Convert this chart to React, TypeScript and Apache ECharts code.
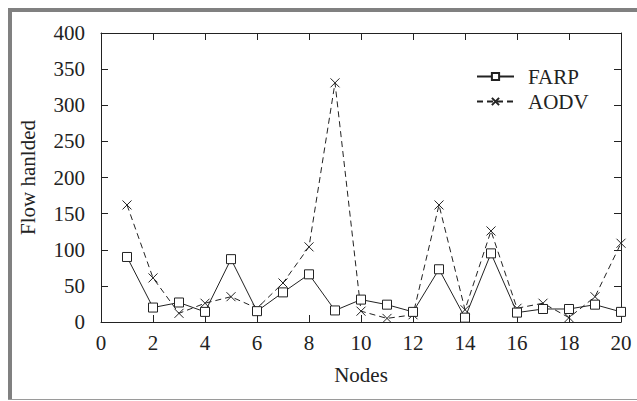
import React, { useEffect, useRef } from "react";
import * as echarts from "echarts";

const nodes = [1, 2, 3, 4, 5, 6, 7, 8, 9, 10, 11, 12, 13, 14, 15, 16, 17, 18, 19, 20];
const farp = [90, 20, 27, 14, 87, 15, 41, 66, 16, 31, 24, 14, 73, 6, 95, 13, 18, 18, 24, 14];
const aodv = [162, 61, 12, 26, 35, 19, 54, 104, 331, 15, 5, 10, 162, 17, 126, 19, 26, 6, 35, 109];

const FONT = "'Liberation Serif', 'Times New Roman', serif";
const CROSS = "path://M0,0L10,10M10,0L0,10";

export default function App() {
  const ref = useRef<HTMLDivElement>(null);
  useEffect(() => {
    if (!ref.current) return;
    const chart = echarts.init(ref.current, undefined, { renderer: "svg" });
    const axisLine = { show: true, onZero: false, lineStyle: { color: "#222", width: 1 } };
    const ticks = { show: true, inside: true, length: 7, lineStyle: { color: "#222" } };
    chart.setOption({
      animation: false,
      backgroundColor: "#fff",
      grid: { left: 101, right: 16, top: 33, bottom: 79 },
      legend: {
        orient: "vertical",
        left: 476,
        top: 66,
        padding: 0,
        itemWidth: 37,
        itemHeight: 9,
        itemGap: 4,
        textStyle: { fontFamily: FONT, fontSize: 21, color: "#222", padding: [0, 0, 0, 9] },
        data: ["FARP", "AODV"],
      },
      xAxis: [
        {
          type: "value",
          min: 0,
          max: 20,
          interval: 2,
          name: "Nodes",
          nameLocation: "middle",
          nameGap: 42,
          nameTextStyle: { fontFamily: FONT, fontSize: 21, color: "#222" },
          axisLine,
          axisTick: ticks,
          axisLabel: { fontFamily: FONT, fontSize: 21, color: "#222", margin: 10 },
          splitLine: { show: false },
        },
        {
          type: "value",
          position: "top",
          min: 0,
          max: 20,
          interval: 2,
          axisLine,
          axisTick: ticks,
          axisLabel: { show: false },
          splitLine: { show: false },
        },
      ],
      yAxis: [
        {
          type: "value",
          min: 0,
          max: 400,
          interval: 50,
          name: "Flow hanlded",
          nameLocation: "middle",
          nameGap: 63,
          nameTextStyle: { fontFamily: FONT, fontSize: 21, color: "#222" },
          axisLine,
          axisTick: ticks,
          axisLabel: { fontFamily: FONT, fontSize: 21, color: "#222", margin: 16 },
          splitLine: { show: false },
        },
        {
          type: "value",
          position: "right",
          min: 0,
          max: 400,
          interval: 50,
          axisLine,
          axisTick: ticks,
          axisLabel: { show: false },
          splitLine: { show: false },
        },
      ],
      series: [
        {
          name: "FARP",
          type: "line",
          data: nodes.map((n, i) => [n, farp[i]]),
          symbol: "rect",
          symbolSize: 9,
          showAllSymbol: true,
          lineStyle: { color: "#222", width: 1, type: "solid" },
          itemStyle: { color: "#fff", borderColor: "#222", borderWidth: 1 },
          z: 3,
        },
        {
          name: "AODV",
          type: "line",
          data: nodes.map((n, i) => [n, aodv[i]]),
          symbol: CROSS,
          symbolSize: 9,
          showAllSymbol: true,
          lineStyle: { color: "#222", width: 1, type: [6, 4] },
          itemStyle: { color: "none", borderColor: "#222", borderWidth: 1 },
          z: 2,
        },
      ],
      graphic: [
        { type: "rect", shape: { x: 8, y: 8, width: 4, height: 392 }, style: { fill: "#808080" } },
        { type: "rect", shape: { x: 8, y: 8, width: 629, height: 4 }, style: { fill: "#808080" } },
        { type: "rect", shape: { x: 8, y: 399, width: 629, height: 1 }, style: { fill: "#9a9a9a" } },
      ],
    });
    return () => chart.dispose();
  }, []);
  return (
    <div
      ref={ref}
      style={{ position: "absolute", left: 0, top: 0, width: 637, height: 401 }}
    />
  );
}
